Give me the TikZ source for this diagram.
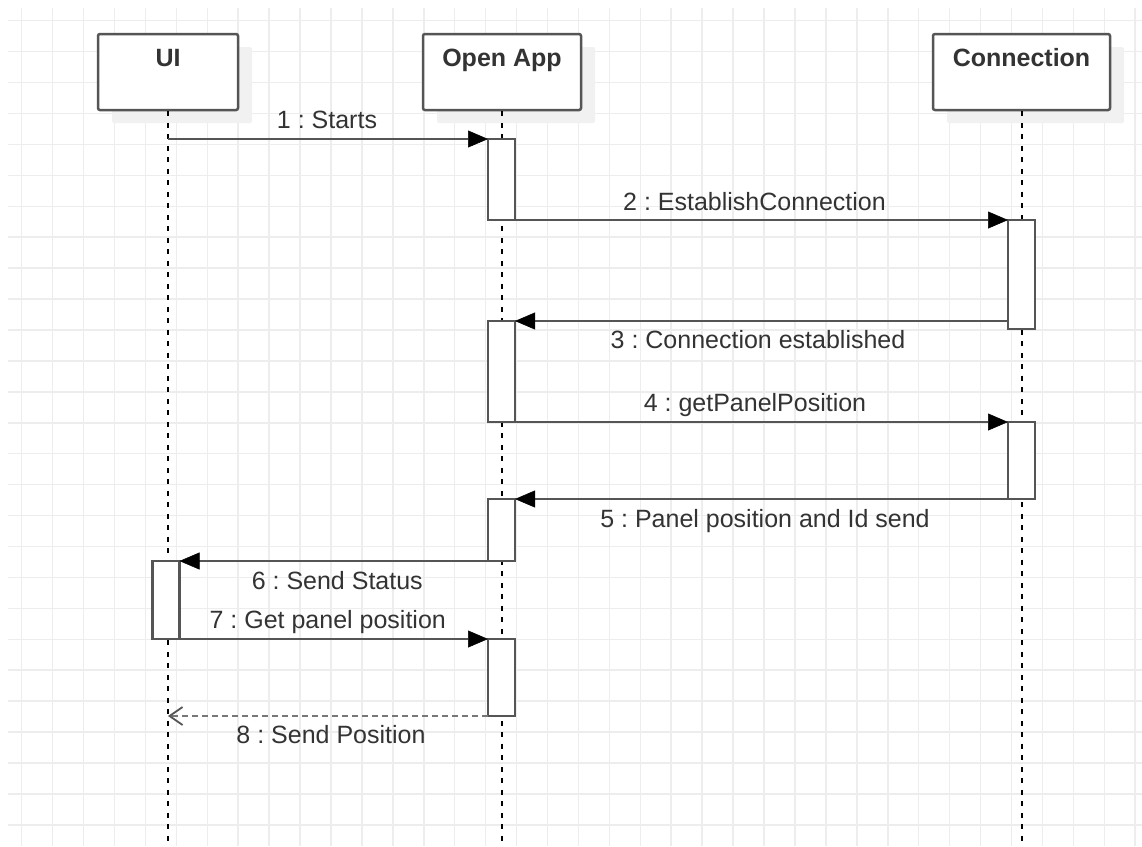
\documentclass[tikz,border=0pt]{standalone}
\usepackage{fontspec}
\setmainfont{Liberation Sans}
\usetikzlibrary{arrows.meta,shadows,calc}
\definecolor{gridc}{HTML}{EDEDED}
\definecolor{shadowc}{HTML}{F1F1F1}
\definecolor{edgec}{HTML}{555555}
\definecolor{txtc}{HTML}{333333}
\definecolor{dashc}{HTML}{777777}
\frenchspacing
\begin{document}
\begin{tikzpicture}[x=1pt,y=-1pt,
  gridline/.style={draw=gridc, line width=1.5pt},
  actorbox/.style={draw=edgec, line width=2.5pt, fill=white, rounded corners=2pt,
    minimum height=76pt, inner sep=0pt,
    drop shadow={shadow xshift=14pt, shadow yshift=-13pt, fill=shadowc, opacity=1}},
  titletext/.style={anchor=base, yshift=-34pt, text=txtc, inner sep=0pt,
    font=\fontsize{25pt}{30pt}\selectfont\bfseries},
  lifeline/.style={draw=black, line width=2pt, dash pattern=on 5pt off 6.5pt},
  actbar/.style={draw=edgec, line width=2.2pt, fill=white, minimum width=27pt,
    inner sep=0pt, outer sep=0pt},
  msg/.style={draw=edgec, line width=2.2pt,
    -{Triangle[length=20pt,width=17pt,color=black,line width=0.5pt]}},
  retmsg/.style={draw=dashc, line width=2pt, dash pattern=on 6pt off 4pt,
    -{Straight Barb[length=13pt,width=18pt,line width=1.8pt,color=edgec]}},
  lbl/.style={anchor=base, text=txtc, inner sep=0pt,
    font=\fontsize{25pt}{30pt}\selectfont}
]
\useasboundingbox (0,0) rectangle (1142,846);
\fill[white] (0,0) rectangle (1142,846);
% grid
\foreach \k in {0,...,36} \draw[gridline] ({21.7+30.93*\k},8) -- ({21.7+30.93*\k},846);
\foreach \k in {0,...,26} \draw[gridline] (8,{20.7+30.93*\k}) -- (1142,{20.7+30.93*\k});

% lifeline ends
\coordinate (uiend) at (168,846);
\coordinate (append) at (502,846);
\coordinate (conend) at (1021.5,846);

% actors
\node[actorbox, minimum width=140pt, label={[titletext]north:UI}] (ui) at (168,72) {};
\node[actorbox, minimum width=158pt, label={[titletext]north:Open App}] (app) at (502,72) {};
\node[actorbox, minimum width=177pt, label={[titletext]north:Connection}] (con) at (1021.5,72) {};

% lifelines
\draw[lifeline] (ui) -- (uiend);
\draw[lifeline] (app) -- (append);
\draw[lifeline] (con) -- (conend);

% activation bars
\node[actbar, minimum height=81pt] (b1) at (501.5,179.5) {};
\node[actbar, minimum height=109pt] (c1) at (1021.5,274.5) {};
\node[actbar, minimum height=101pt] (b2) at (501.5,371.5) {};
\node[actbar, minimum height=77pt] (c2) at (1021.5,460.5) {};
\node[actbar, minimum height=62pt] (b3) at (501.5,530) {};
\node[actbar, minimum height=78pt] (u1) at (166,600) {};
\node[actbar, minimum height=77pt] (b4) at (501.5,677.5) {};

% free ends on the UI lifeline
\coordinate (m1s) at (168,139);
\coordinate (m8e) at (168,716);

% messages
\draw[msg] (m1s) -- node[lbl, midway, yshift=11pt, xshift=-1pt] {1 : Starts} (b1.north west);
\draw[msg] (b1.south east) -- node[lbl, midway, yshift=10pt, xshift=-7pt] {2 : EstablishConnection} (c1.north west);
\draw[msg] (c1.west |- b2.north) -- node[lbl, midway, yshift=-27pt, xshift=-3.5pt] {3 : Connection established} (b2.north east);
\draw[msg] (b2.south east) -- node[lbl, midway, yshift=11pt, xshift=-6.5pt] {4 : getPanelPosition} (c2.north west);
\draw[msg] (c2.south west) -- node[lbl, midway, yshift=-28pt, xshift=3.5pt] {5 : Panel position and Id send} (b3.north east);
\draw[msg] (b3.south west) -- node[lbl, midway, yshift=-28pt, xshift=3.5pt] {6 : Send Status} (u1.north east);
\draw[msg] (u1.south east) -- node[lbl, midway, yshift=10.5pt, xshift=-6pt] {7 : Get panel position} (b4.north west);
\draw[retmsg] (b4.south west) -- node[lbl, midway, yshift=-27pt, xshift=3pt] {8 : Send Position} (m8e);
\end{tikzpicture}
\end{document}
